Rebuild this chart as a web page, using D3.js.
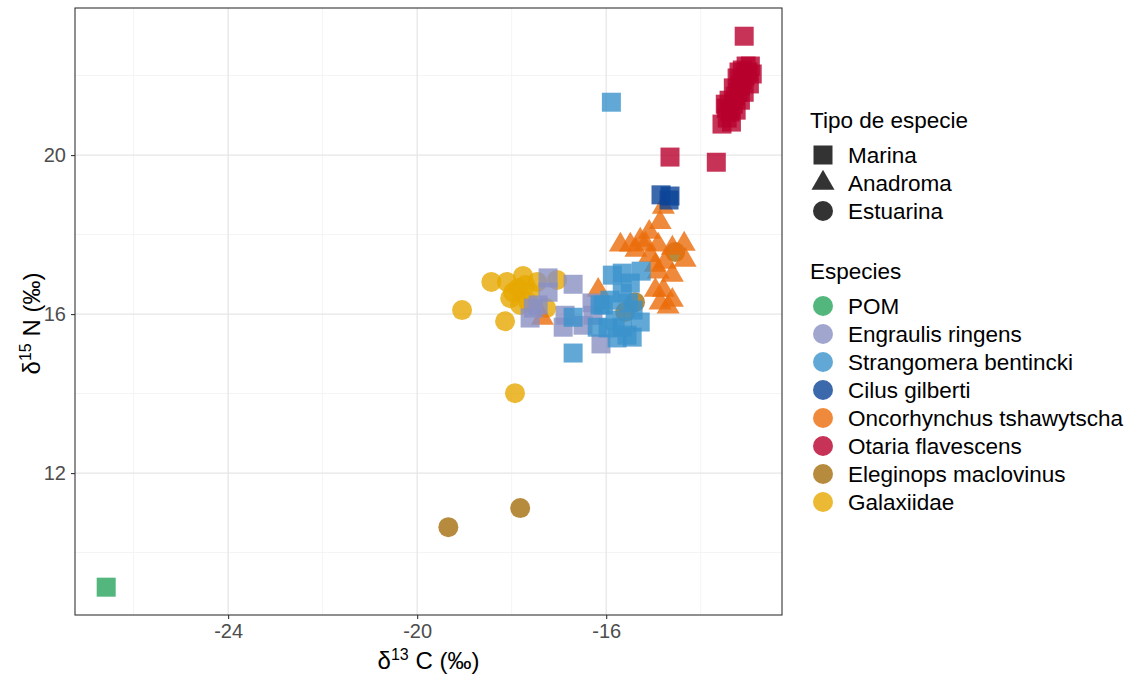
<!DOCTYPE html>
<html>
<head>
<meta charset="utf-8">
<script src="https://cdn.jsdelivr.net/npm/d3@7"></script>
<style>
  html, body { margin: 0; padding: 0; background: #fff; }
  svg { display: block; font-family: "Liberation Sans", Arial, Helvetica, sans-serif; }
</style>
</head>
<body>
<svg id="chart" width="1135" height="675"></svg>
<script>
// ---------------- DATA ----------------
const species = ["POM", "Engraulis ringens", "Strangomera bentincki", "Cilus gilberti",
                 "Oncorhynchus tshawytscha", "Otaria flavescens", "Eleginops maclovinus", "Galaxiidae"];
const speciesColors = ["#27a45c", "#8990c3", "#3b92cc", "#0b4497", "#eb6d0b", "#b8002d", "#a56e0e", "#e6a800"];
const tipos = ["Marina", "Anadroma", "Estuarina"];
const speciesTipo = ["Marina", "Marina", "Marina", "Marina", "Anadroma", "Marina", "Estuarina", "Estuarina"];

const xTicks = [-24, -20, -16];
const yTicks = [12, 16, 20];
const xMinor = [-26, -22, -18, -14];
const yMinor = [10, 14, 18, 22];

// delta13C / delta15N per species
const pomC = [-26.58];
const pomN = [9.13];

const engraulisC = [-17.23, -17.23, -16.70, -17.54, -17.61, -16.87, -16.91, -16.30, -16.49, -16.11, -16.28, -17.44];
const engraulisN = [16.91, 16.55, 16.75, 16.15, 15.90, 15.97, 15.67, 16.28, 15.72, 15.25, 15.97, 16.23];

const strangomeraC = [-15.89, -16.70, -15.87, -15.66, -15.26, -15.49, -15.66, -16.06, -15.92, -15.53, -15.43,
                      -15.28, -16.19, -15.96, -15.81, -15.66, -15.45, -15.77, -15.56, -16.70, -16.13];
const strangomeraN = [21.33, 15.02, 16.98, 17.03, 17.08, 16.78, 16.53, 16.23, 16.35, 16.28, 16.10,
                      15.80, 15.67, 15.65, 15.85, 15.67, 15.42, 15.40, 15.47, 15.92, 16.23];

const cilusC = [-14.84, -14.65, -14.67];
const cilusN = [19.00, 18.97, 18.87];

const oncorhynchusC = [-14.79, -14.86, -15.09, -15.28, -15.49, -15.70, -15.37, -15.17, -14.90, -15.07, -14.60, -14.35,
                       -14.33, -14.75, -14.96, -14.90, -14.60, -14.96, -14.79, -14.60, -14.86, -14.69, -16.17, -17.35];
const oncorhynchusN = [18.69, 18.31, 18.06, 17.86, 17.74, 17.74, 17.61, 17.76, 17.74, 17.48, 17.66, 17.76,
                       17.36, 17.31, 17.23, 17.06, 16.98, 16.60, 16.60, 16.35, 16.28, 16.18, 16.60, 15.90];

const otariaC = [-13.08, -14.65, -13.67, -13.55, -13.44, -13.38, -13.46, -13.31, -13.40, -13.27, -13.21, -13.31,
                 -13.16, -13.12, -13.23, -13.06, -13.00, -13.12, -12.95, -13.04, -12.91, -13.08, -13.16, -13.25,
                 -13.35, -13.48, -12.97, -13.19];
const otariaN = [22.99, 19.95, 19.82, 20.78, 20.93, 21.08, 21.18, 21.28, 21.38, 21.48, 21.58, 21.69,
                 21.74, 21.89, 21.94, 21.99, 22.09, 22.14, 22.24, 22.24, 22.04, 21.58, 21.38, 21.13,
                 20.83, 21.28, 21.79, 22.09];

const eleginopsC = [-19.34, -17.82, -14.54, -15.39, -15.60];
const eleginopsN = [10.64, 11.12, 17.56, 16.30, 16.05];

const galaxiidaeC = [-19.05, -18.43, -18.14, -17.93, -18.10, -17.76, -17.86, -18.03, -17.61, -17.82, -17.27,
                     -17.04, -17.46, -17.97, -17.65, -17.71];
const galaxiidaeN = [16.10, 16.81, 15.82, 14.01, 16.81, 16.96, 16.65, 16.40, 16.55, 16.23, 16.15,
                     16.86, 16.81, 16.55, 16.30, 16.73];

const seriesC = [pomC, engraulisC, strangomeraC, cilusC, oncorhynchusC, otariaC, eleginopsC, galaxiidaeC];
const seriesN = [pomN, engraulisN, strangomeraN, cilusN, oncorhynchusN, otariaN, eleginopsN, galaxiidaeN];
// drawing order (index into species)
const drawOrder = [7, 6, 4, 1, 2, 3, 5, 0];

// ---------------- LAYOUT ----------------
const panel = { left: 75, right: 782, top: 8, bottom: 615 };
const svg = d3.select("#chart");

const x = d3.scaleLinear().domain([-27.24, -12.28]).range([panel.left, panel.right]);
const y = d3.scaleLinear().domain([8.43, 23.70]).range([panel.bottom, panel.top]);

const shapeOf = { Marina: d3.symbolSquare, Anadroma: d3.symbolTriangle, Estuarina: d3.symbolCircle };
const sizeOf = { Marina: 19 * 19, Anadroma: Math.sqrt(3) / 4 * 23 * 23, Estuarina: Math.PI * 10 * 10 };

// panel background
svg.append("rect").attr("x", panel.left).attr("y", panel.top)
  .attr("width", panel.right - panel.left).attr("height", panel.bottom - panel.top).attr("fill", "#fff");

// minor grid
const grid = svg.append("g");
grid.selectAll("line.xm").data(xMinor).join("line")
  .attr("x1", d => x(d)).attr("x2", d => x(d)).attr("y1", panel.top).attr("y2", panel.bottom)
  .attr("stroke", "#f4f4f4").attr("stroke-width", 1);
grid.selectAll("line.ym").data(yMinor).join("line")
  .attr("y1", d => y(d)).attr("y2", d => y(d)).attr("x1", panel.left).attr("x2", panel.right)
  .attr("stroke", "#f4f4f4").attr("stroke-width", 1);
// major grid
grid.selectAll("line.xM").data(xTicks).join("line")
  .attr("x1", d => x(d)).attr("x2", d => x(d)).attr("y1", panel.top).attr("y2", panel.bottom)
  .attr("stroke", "#e6e6e6").attr("stroke-width", 1.3);
grid.selectAll("line.yM").data(yTicks).join("line")
  .attr("y1", d => y(d)).attr("y2", d => y(d)).attr("x1", panel.left).attr("x2", panel.right)
  .attr("stroke", "#e6e6e6").attr("stroke-width", 1.3);

// points
const pts = svg.append("g");
drawOrder.forEach(si => {
  const tipo = speciesTipo[si];
  const sym = d3.symbol().type(shapeOf[tipo]).size(sizeOf[tipo]);
  const data = seriesC[si].map((c, i) => ({ c, n: seriesN[si][i] }));
  pts.append("g").selectAll("path").data(data).join("path")
    .attr("d", sym)
    .attr("transform", d => `translate(${x(d.c)},${y(d.n)})`)
    .attr("fill", speciesColors[si]).attr("fill-opacity", 0.8);
});

// panel border
svg.append("rect").attr("x", panel.left).attr("y", panel.top)
  .attr("width", panel.right - panel.left).attr("height", panel.bottom - panel.top)
  .attr("fill", "none").attr("stroke", "#333").attr("stroke-width", 1.1);

// axes
const xAxis = d3.axisBottom(x).tickValues(xTicks).tickSize(4).tickPadding(5).tickFormat(d3.format("d"));
const yAxis = d3.axisLeft(y).tickValues(yTicks).tickSize(4).tickPadding(5).tickFormat(d3.format("d"));
const gx = svg.append("g").attr("transform", `translate(0,${panel.bottom})`).call(xAxis);
const gy = svg.append("g").attr("transform", `translate(${panel.left},0)`).call(yAxis);
[gx, gy].forEach(g => {
  g.select(".domain").remove();
  g.selectAll(".tick line").attr("stroke", "#333").attr("stroke-width", 1.1);
  g.selectAll(".tick text").attr("fill", "#4d4d4d").attr("font-size", 20)
    .attr("font-family", "Liberation Sans, Arial, sans-serif");
});
gx.selectAll(".tick text").text(d => d < 0 ? "-" + Math.abs(d) : d);

// axis titles
const xt = svg.append("text").attr("x", (panel.left + panel.right) / 2).attr("y", 669)
  .attr("text-anchor", "middle").attr("font-size", 24).attr("fill", "#000");
xt.append("tspan").text("δ");
xt.append("tspan").attr("dy", -9).attr("font-size", 16).text("13");
xt.append("tspan").attr("dy", 9).text(" C (‰)");

const yt = svg.append("text").attr("transform", `translate(40,${(panel.top + panel.bottom) / 2 + 12}) rotate(-90)`)
  .attr("text-anchor", "middle").attr("font-size", 24).attr("fill", "#000");
yt.append("tspan").text("δ");
yt.append("tspan").attr("dy", -9).attr("font-size", 16).text("15");
yt.append("tspan").attr("dy", 9).text(" N (‰)");

// legends
const leg = svg.append("g");
const legFont = 22.5;
leg.append("text").attr("x", 810).attr("y", 128).attr("font-size", legFont).text("Tipo de especie");
tipos.forEach((t, i) => {
  const cy = 155 + i * 28;
  leg.append("path").attr("d", d3.symbol().type(shapeOf[t]).size(sizeOf[t]))
    .attr("transform", `translate(823,${cy})`).attr("fill", "#000").attr("fill-opacity", 0.8);
  leg.append("text").attr("x", 848).attr("y", cy).attr("dy", "0.36em").attr("font-size", legFont).text(t);
});
leg.append("text").attr("x", 810).attr("y", 279).attr("font-size", legFont).text("Especies");
species.forEach((s, i) => {
  const cy = 306 + i * 28;
  leg.append("circle").attr("cx", 823).attr("cy", cy).attr("r", 10)
    .attr("fill", speciesColors[i]).attr("fill-opacity", 0.8);
  leg.append("text").attr("x", 848).attr("y", cy).attr("dy", "0.36em").attr("font-size", legFont).text(s);
});
</script>
</body>
</html>
